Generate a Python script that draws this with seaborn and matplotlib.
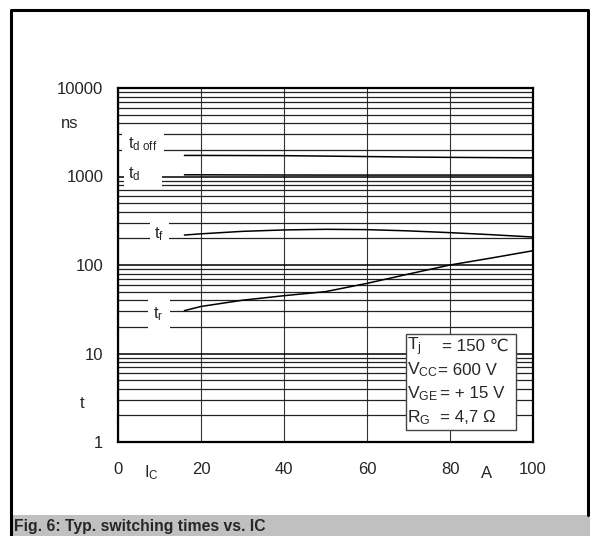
import numpy as np
import pandas as pd
import matplotlib
matplotlib.use("Agg")
import matplotlib.pyplot as plt
from matplotlib.patches import Rectangle
import seaborn as sns

# ---- data ----
ic = [16, 20, 30, 40, 50, 60, 70, 80, 90, 100]
t_d_off = [1730, 1730, 1725, 1720, 1700, 1680, 1660, 1645, 1635, 1625]
t_d = [1045, 1045, 1042, 1040, 1038, 1038, 1038, 1038, 1038, 1038]
t_f = [218, 225, 240, 249, 253, 251, 243, 232, 220, 207]
t_r = [30.5, 34, 40, 45, 50, 62, 79, 100, 120, 145]

x_ticks = [0, 20, 40, 60, 80, 100]
y_ticks = [1, 10, 100, 1000, 10000]
y_tick_labels = ["1", "10", "100", "1000", "10000"]

legend_names = [r"T$\mathregular{_j}$", r"V$\mathregular{_{CC}}$",
                r"V$\mathregular{_{GE}}$", r"R$\mathregular{_G}$"]
legend_values = ["= 150 ℃", "= 600 V", "= + 15 V", "= 4,7 Ω"]
caption = "Fig. 6: Typ. switching times vs. IC"

df = pd.DataFrame({"IC": ic * 4,
                   "t": t_d_off + t_d + t_f + t_r,
                   "curve": (["td_off"] * len(ic) + ["td"] * len(ic)
                             + ["tf"] * len(ic) + ["tr"] * len(ic))})

sns.set_theme(style="white")
plt.rcParams["font.family"] = ["Liberation Sans", "DejaVu Sans"]
plt.rcParams["mathtext.fontset"] = "custom"
plt.rcParams["mathtext.rm"] = "Liberation Sans"
plt.rcParams["mathtext.it"] = "Liberation Sans:italic"

W, H = 590, 536
fig = plt.figure(figsize=(W / 100, H / 100), dpi=100)
fig.patch.set_facecolor("white")

L, R, T, B = 118, 533, 88, 442
ax = fig.add_axes([L / W, 1 - B / H, (R - L) / W, (B - T) / H])

sns.lineplot(data=df, x="IC", y="t", units="curve", estimator=None,
             color="black", linewidth=1.1, ax=ax, zorder=3, legend=False)

ax.set_yscale("log")
ax.set_xlim(0, 100)
ax.set_ylim(1, 10000)
ax.set_xticks(x_ticks)
ax.set_xticklabels([str(v) for v in x_ticks], fontsize=12)
ax.set_yticks(y_ticks)
ax.set_yticklabels(y_tick_labels, fontsize=12)
ax.yaxis.set_minor_locator(matplotlib.ticker.LogLocator(base=10, subs=np.arange(2, 10)))
ax.yaxis.set_minor_formatter(matplotlib.ticker.NullFormatter())
ax.tick_params(axis="both", which="both", length=0)
ax.tick_params(axis="y", pad=10.5)
ax.tick_params(axis="x", pad=14.5)
ax.set_xlabel("")
ax.set_ylabel("")

ax.set_axisbelow(True)
ax.grid(True, axis="y", which="major", color="black", linewidth=1.1)
ax.grid(True, axis="y", which="minor", color="#222222", linewidth=0.9)
ax.grid(True, axis="x", which="major", color="#333333", linewidth=0.8)
for s in ax.spines.values():
    s.set_color("black")
    s.set_linewidth(1.6)
    s.set_visible(True)

# white boxes behind curve labels (pixel coordinates converted to figure fraction)
def pix_rect(x0, y0, x1, y1):
    return Rectangle((x0 / W, 1 - y1 / H), (x1 - x0) / W, (y1 - y0) / H,
                     transform=fig.transFigure, facecolor="white",
                     edgecolor="none", zorder=2)

for box in [(122, 130, 164, 153), (124, 168, 162, 188),
            (150, 219, 169, 243), (148, 297, 170, 330)]:
    ax.add_patch(pix_rect(*box))

def ftext(x, y, s, **kw):
    kw.setdefault("fontsize", 12)
    fig.text(x / W, 1 - y / H, s, **kw)

ftext(143, 144, r"t$\mathregular{_{d\ off}}$", ha="center", va="center", zorder=4)
ftext(134, 174, r"t$\mathregular{_d}$", ha="center", va="center", zorder=4)
ftext(159, 234, r"t$\mathregular{_f}$", ha="center", va="center", zorder=4)
ftext(158, 314, r"t$\mathregular{_r}$", ha="center", va="center", zorder=4)

# axis unit / name labels
ftext(70, 123, "ns", ha="center", va="center")
ftext(82, 404, "t", ha="center", va="center")
ftext(151, 473, r"I$\mathregular{_C}$", ha="center", va="center")
ftext(487, 474, "A", ha="center", va="center")

# condition box
ax.add_patch(Rectangle((406 / W, 1 - 430 / H), (516 - 406) / W, (430 - 334) / H,
                       transform=fig.transFigure, facecolor="white",
                       edgecolor="#444444", linewidth=1.0, zorder=4))
value_x = [441.5, 438.5, 439.5, 440]
baselines = [350.7, 374.7, 398, 422]
for nm, val, vx, yb in zip(legend_names, legend_values, value_x, baselines):
    ftext(407, yb, nm, ha="left", va="baseline", zorder=5, fontsize=12.6)
    ftext(vx, yb, val, ha="left", va="baseline", zorder=5, fontsize=12.2)

# outer frame and caption bar
fig.patches.append(Rectangle((12.5 / W, 0), (W - 12.5) / W, 21 / H,
                             transform=fig.transFigure, facecolor="#c0c0c0",
                             edgecolor="none", zorder=0))
fig.lines.append(matplotlib.lines.Line2D([11 / W, 11 / W, 587.5 / W, 587.5 / W],
                                         [0, 1 - 9.5 / H, 1 - 9.5 / H, 21 / H],
                                         transform=fig.transFigure,
                                         color="black", linewidth=2.2))
ftext(14, 526, caption, ha="left", va="center", fontsize=11.3, fontweight="bold")

fig.savefig("out.png", dpi=100)
